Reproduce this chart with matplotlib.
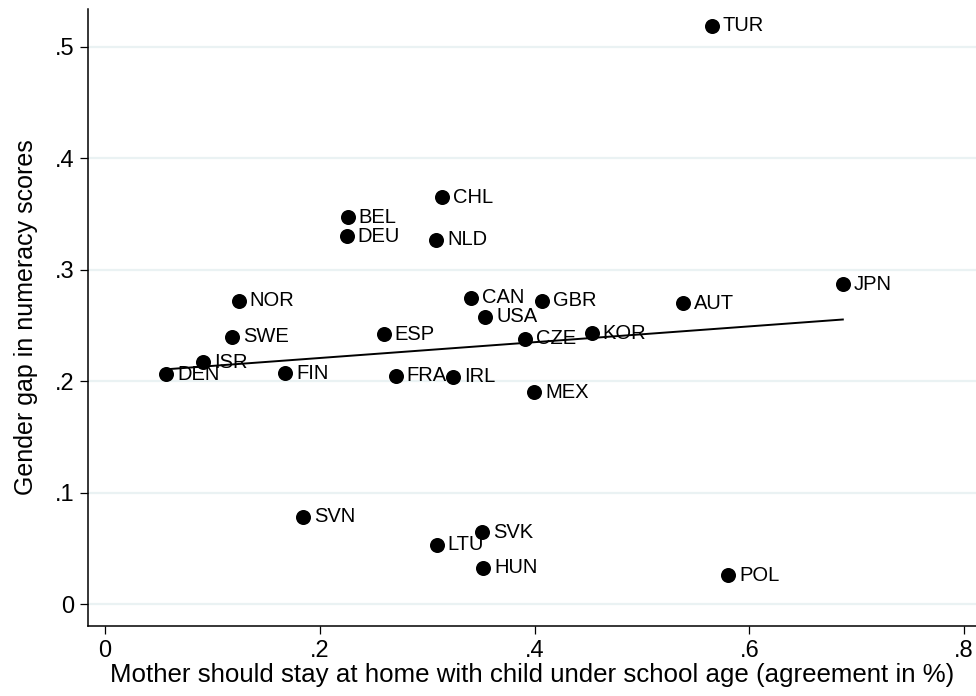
import numpy as np
import matplotlib
matplotlib.use("Agg")
import matplotlib.pyplot as plt
from matplotlib.ticker import FuncFormatter

countries = ["TUR", "CHL", "BEL", "DEU", "NLD", "NOR", "CAN", "GBR", "AUT", "JPN",
             "USA", "SWE", "ESP", "CZE", "KOR", "ISR", "DEN", "FIN", "FRA", "IRL",
             "MEX", "SVN", "SVK", "LTU", "HUN", "POL"]
agree = [0.565, 0.314, 0.226, 0.225, 0.308, 0.1245, 0.3405, 0.4066, 0.5385, 0.687,
         0.354, 0.1185, 0.2595, 0.391, 0.453, 0.091, 0.057, 0.1676, 0.2707, 0.3236,
         0.3997, 0.1846, 0.3506, 0.3088, 0.3521, 0.580]
gap = [0.519, 0.365, 0.347, 0.330, 0.327, 0.272, 0.275, 0.272, 0.270, 0.287,
       0.258, 0.240, 0.242, 0.238, 0.243, 0.217, 0.206, 0.207, 0.2047, 0.2038,
       0.190, 0.0784, 0.0644, 0.053, 0.0326, 0.026]
xticks = [0, 0.2, 0.4, 0.6, 0.8]
yticks = [0, 0.1, 0.2, 0.3, 0.4, 0.5]

plt.rcParams['font.family'] = ['Liberation Sans', 'DejaVu Sans']

W, H = 976, 696
fig = plt.figure(figsize=(W / 100, H / 100), dpi=100)
ax = fig.add_axes([88.3 / W, 1 - 626 / H, (W - 88.3) / W, (626 - 9) / H])

x = np.array(agree)
y = np.array(gap)

ax.set_xlim(-0.01555, 0.811)
ax.set_ylim(-0.0197, 0.534)

ax.set_yticks(yticks)
ax.set_xticks(xticks)
for t in yticks:
    ax.axhline(t, color="#eaf2f3", lw=1.6, zorder=0)

ax.scatter(x, y, s=117, color="black", zorder=3, linewidths=0)
for c, xi, yi in zip(countries, x, y):
    ax.annotate(c, (xi, yi), xytext=(8, 0), textcoords="offset points",
                va="center", ha="left", fontsize=14.5, color="black", zorder=4)

b, a = np.polyfit(x, y, 1)
xs = np.array([x.min(), x.max()])
ax.plot(xs, a + b * xs, color="black", lw=1.4, zorder=2)

fmt = FuncFormatter(lambda v, p: "0" if abs(v) < 1e-9 else ("%g" % v).lstrip("0"))
ax.xaxis.set_major_formatter(fmt)
ax.yaxis.set_major_formatter(fmt)

for s in ["top", "right"]:
    ax.spines[s].set_visible(False)
for s in ["left", "bottom"]:
    ax.spines[s].set_linewidth(1.1)
    ax.spines[s].set_color("black")
ax.tick_params(axis="both", direction="out", length=6, width=0.9, labelsize=17, pad=4)

ax.set_xlabel("Mother should stay at home with child under school age (agreement in %)",
              fontsize=18.6, labelpad=1)
ax.set_ylabel("Gender gap in numeracy scores", fontsize=18, labelpad=12)

fig.savefig("out.png", dpi=100)
